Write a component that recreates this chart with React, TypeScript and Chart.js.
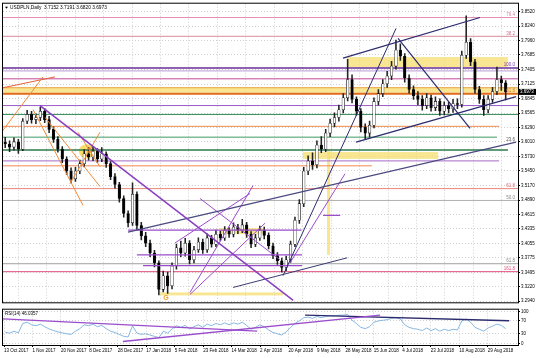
import React, { useEffect, useRef } from "react";
import { Chart, registerables } from "chart.js";
Chart.register(...registerables);

const FONT = "'Liberation Sans', Arial, sans-serif";

// ---------- price data (2-day candles) ----------
const firstOpen = 3.6;
const closes = [
  3.597, 3.591, 3.601, 3.587, 3.641, 3.654, 3.644, 3.648, 3.660, 3.644,
  3.625, 3.606, 3.587, 3.568, 3.545, 3.530, 3.545, 3.559, 3.578, 3.572,
  3.583, 3.568, 3.578, 3.559, 3.534, 3.519, 3.492, 3.463, 3.445, 3.500,
  3.440, 3.420, 3.406, 3.387, 3.368, 3.317, 3.343, 3.324, 3.362, 3.397,
  3.387, 3.406, 3.374, 3.393, 3.408, 3.393, 3.416, 3.404, 3.423, 3.416,
  3.431, 3.423, 3.437, 3.431, 3.441, 3.423, 3.404, 3.416, 3.431, 3.421,
  3.401, 3.382, 3.372, 3.359, 3.374, 3.404, 3.450, 3.482, 3.545, 3.564,
  3.557, 3.595, 3.587, 3.618, 3.637, 3.648, 3.663, 3.686, 3.721, 3.683,
  3.660, 3.629, 3.618, 3.633, 3.679, 3.694, 3.713, 3.728, 3.747, 3.778,
  3.766, 3.724, 3.702, 3.690, 3.683, 3.671, 3.686, 3.667, 3.679, 3.660,
  3.671, 3.665, 3.675, 3.673, 3.768, 3.793, 3.755, 3.702, 3.683, 3.663,
  3.683, 3.698, 3.721, 3.715, 3.6973,
];
const highs = [
  3.610, 3.603, 3.609, 3.606, 3.646, 3.662, 3.660, 3.655, 3.668, 3.665,
  3.650, 3.630, 3.611, 3.592, 3.572, 3.551, 3.552, 3.566, 3.586, 3.590,
  3.592, 3.588, 3.590, 3.582, 3.563, 3.540, 3.523, 3.497, 3.468, 3.522,
  3.505, 3.446, 3.427, 3.412, 3.392, 3.372, 3.352, 3.350, 3.368, 3.404,
  3.410, 3.415, 3.411, 3.400, 3.416, 3.414, 3.424, 3.421, 3.431, 3.429,
  3.438, 3.436, 3.445, 3.442, 3.452, 3.446, 3.428, 3.423, 3.439, 3.437,
  3.426, 3.406, 3.388, 3.377, 3.381, 3.410, 3.456, 3.490, 3.552, 3.574,
  3.580, 3.603, 3.611, 3.625, 3.645, 3.657, 3.672, 3.694, 3.760, 3.730,
  3.688, 3.665, 3.636, 3.641, 3.686, 3.702, 3.721, 3.737, 3.756, 3.797,
  3.790, 3.771, 3.730, 3.709, 3.698, 3.690, 3.694, 3.691, 3.688, 3.684,
  3.678, 3.677, 3.683, 3.684, 3.776, 3.844, 3.800, 3.760, 3.708, 3.690,
  3.690, 3.706, 3.745, 3.728, 3.7191,
];
const lows = [
  3.590, 3.582, 3.585, 3.579, 3.584, 3.636, 3.637, 3.636, 3.642, 3.638,
  3.619, 3.600, 3.581, 3.561, 3.538, 3.522, 3.525, 3.540, 3.553, 3.566,
  3.565, 3.561, 3.563, 3.552, 3.528, 3.512, 3.485, 3.456, 3.437, 3.440,
  3.432, 3.412, 3.399, 3.380, 3.360, 3.306, 3.312, 3.309, 3.318, 3.356,
  3.380, 3.381, 3.366, 3.368, 3.388, 3.386, 3.388, 3.398, 3.399, 3.410,
  3.411, 3.417, 3.418, 3.424, 3.426, 3.417, 3.397, 3.399, 3.411, 3.414,
  3.395, 3.376, 3.365, 3.350, 3.353, 3.369, 3.399, 3.444, 3.476, 3.538,
  3.548, 3.551, 3.580, 3.582, 3.611, 3.630, 3.641, 3.657, 3.680, 3.676,
  3.652, 3.620, 3.607, 3.610, 3.628, 3.672, 3.688, 3.706, 3.721, 3.741,
  3.758, 3.716, 3.695, 3.683, 3.672, 3.662, 3.665, 3.660, 3.661, 3.652,
  3.653, 3.657, 3.658, 3.665, 3.668, 3.762, 3.748, 3.695, 3.675, 3.652,
  3.657, 3.677, 3.692, 3.700, 3.682,
];
const rsiValues = [
  35, 32, 38, 33, 62, 66, 58, 55, 60, 52,
  45, 40, 36, 33, 30, 28, 38, 46, 58, 55,
  60, 52, 56, 46, 38, 34, 28, 22, 20, 55,
  32, 28, 30, 26, 22, 18, 38, 32, 45, 55,
  50, 56, 45, 52, 58, 50, 60, 55, 62, 58,
  64, 58, 64, 60, 66, 56, 44, 50, 58, 52,
  42, 34, 30, 26, 36, 50, 62, 70, 80, 82,
  78, 84, 80, 84, 86, 86, 88, 88, 90, 72,
  62, 50, 46, 52, 66, 70, 72, 74, 78, 80,
  76, 58, 50, 46, 44, 40, 48, 40, 46, 38,
  44, 40, 44, 42, 70, 76, 66, 50, 44, 38,
  48, 54, 60, 56, 46.0357,
];

// ---------- axes ----------
const dateLabels = [
  "13 Oct 2017", "1 Nov 2017", "20 Nov 2017", "8 Dec 2017", "28 Dec 2017", "17 Jan 2018",
  "5 Feb 2018", "23 Feb 2018", "14 Mar 2018", "2 Apr 2018", "20 Apr 2018", "9 May 2018",
  "28 May 2018", "15 Jun 2018", "4 Jul 2018", "23 Jul 2018", "10 Aug 2018", "29 Aug 2018",
];
const dateTickBars = [
  -0.27, 6.21, 12.69, 19.17, 25.65, 32.13, 38.61, 45.09, 51.57, 58.05, 64.53, 71.01,
  77.49, 83.97, 90.45, 96.93, 103.41, 109.89,
];
const priceTicks = [
  3.852, 3.824, 3.796, 3.7685, 3.7405, 3.7125, 3.6845, 3.6565, 3.629, 3.601, 3.573,
  3.545, 3.517, 3.489, 3.4615, 3.4335, 3.4055, 3.3775, 3.3495, 3.322, 3.294,
];
const rsiTicks = [0, 30, 70, 100];
const barMin = -0.5;
const barMax = 116.8;
const priceMin = 3.292;
const priceMax = 3.8672;

// ---------- horizontal levels ----------
const levelPrices = [3.8406, 3.8044, 3.7434, 3.7377, 3.7225, 3.7053, 3.6939, 3.671, 3.6539,
  3.631, 3.6101, 3.5853, 3.5644, 3.5549, 3.511, 3.4882, 3.3663, 3.351];
const levelStartBars = [-0.5, -0.5, -0.5, -0.5, -0.5, -0.5, -0.5, -0.5, -0.5,
  -0.5, -0.5, -0.5, -0.5, -0.5, -0.5, -0.5, -0.5, -0.5];
const levelEndBars = [116.8, 116.8, 116.8, 116.8, 116.8, 116.8, 116.8, 116.8, 116.8,
  112.5, 112, 114.5, 112.5, 83.5, 116.8, 116.8, 116.8, 116.8];
const levelStyles = [
  ["#e58fb5", 1], ["#d98a9c", 1], ["#6a2c9a", 1.5], ["#b99ad6", 1], ["#c2489e", 1],
  ["#e9a13b", 1], ["#e06a1a", 2], ["#9a5cc8", 1], ["#2f8a55", 1],
  ["#f0884a", 1], ["#3f9a60", 1], ["#2b7a4b", 1.5], ["#a56ac8", 1], ["#f08a4e", 1],
  ["#e9877a", 1], ["#b0b0b0", 1], ["#a0a0a0", 1], ["#e2507c", 1],
];

// short horizontal segments
const segPrices = [3.431, 3.3834, 3.3625, 3.4596];
const segStartBars = [28, 30, 31.4, 72.4];
const segEndBars = [67.5, 67.6, 67.6, 76.3];

// fib labels
const fibTexts = ["76.4", "38.2", "100.0", "61.8", "23.6", "61.8", "50.0", "61.8", "161.8"];
const fibPrices = [3.8406, 3.8044, 3.7434, 3.6939, 3.6006, 3.511, 3.4882, 3.3663, 3.351];
const fibColors = ["#e07fa8", "#d0708a", "#7a3aaa", "#e07a40", "#555", "#e06a70", "#888", "#888", "#e2507c"];

// ---------- trendlines ----------
const trendStartBars = [7.93, -1.18, -0.5, 6.33, 9.07, 14.76, 16.58, 76.95, 89.48, 79.91, 27.97, 63.28, 42.1, 51.9,
  38.68, 44.37, 42.1, 64.88];
const trendStartPrices = [3.671, 3.6158, 3.7053, 3.6634, 3.6482, 3.5206, 3.6196, 3.7625, 3.8006, 3.6006, 3.4272, 3.3434, 3.311, 3.3206,
  3.4063, 3.492, 3.3072, 3.3682];
const trendEndBars = [65.6, 8.61, 11.35, 17.72, 21.6, 21.6, 21.6, 108.15, 105.88, 116.36, 116.36, 89.02, 56.45, 77.9,
  55.76, 62.6, 59.18, 77.4];
const trendEndPrices = [3.2958, 3.7263, 3.7263, 3.4787, 3.5149, 3.6196, 3.553, 3.8406, 3.6272, 3.6882, 3.6006, 3.8196, 3.5168, 3.3777,
  3.5015, 3.3739, 3.4444, 3.5396];
const trendStyles = [
  ["#8a3fc0", 1.5], ["#f08a3a", 1], ["#e8603a", 1], ["#f08a3a", 1], ["#f08a3a", 1],
  ["#f08a3a", 1], ["#f08a3a", 1], ["#2b2b6e", 1.2], ["#2b2b6e", 1.2], ["#2b2b6e", 1.2],
  ["#4a4a80", 1.2], ["#2b2b6e", 1], ["#9a4ccc", 1], ["#3a3a70", 1],
  ["#9a4ccc", 1], ["#9a4ccc", 1], ["#9a4ccc", 1], ["#9a4ccc", 1],
];

// ---------- yellow zones ----------
const zoneStartBars = [77.9, -0.5, 67.8, 73.3, 48.9, 35.3];
const zoneEndBars = [114.5, 116.8, 98.6, 74.0, 58.7, 63.3];
const zoneTopPrices = [3.7644, 3.7053, 3.5815, 3.5872, 3.4349, 3.311];
const zoneBottomPrices = [3.7453, 3.6958, 3.5682, 3.3834, 3.4234, 3.3053];
const circleBar = 18.6;
const circlePrice = 3.583;

// ---------- RSI trendlines ----------
const rsiLineStartBars = [-0.5, 26.8, 68.3];
const rsiLineStartVals = [76.5, 5.9, 88];
const rsiLineEndBars = [57.4, 85.4, 114.8];
const rsiLineEndVals = [38.2, 88, 70.6];
const rsiLineColors = ["#9a4ccc", "#9a4ccc", "#2b2b6e"];

const titleText = "USDPLN,Daily  3.7152 3.7191 3.6820 3.6973";
const rsiTitle = "RSI(14) 46.0357";
const lastPrice = closes[closes.length - 1];

const gridColor = "#cfcfcf";

const mainPlugin = {
  id: "mainOverlay",
  beforeDatasetsDraw(chart: any) {
    const { ctx, chartArea: a, scales } = chart;
    const x = scales.x, y = scales.y;
    ctx.save();
    ctx.beginPath();
    ctx.rect(a.left, a.top, a.right - a.left, a.bottom - a.top);
    ctx.clip();
    ctx.fillStyle = "rgba(246, 222, 110, 0.75)";
    for (let i = 0; i < zoneStartBars.length; i++) {
      const x1 = x.getPixelForValue(zoneStartBars[i]);
      const x2 = x.getPixelForValue(zoneEndBars[i]);
      const y1 = y.getPixelForValue(zoneTopPrices[i]);
      const y2 = y.getPixelForValue(zoneBottomPrices[i]);
      ctx.fillRect(x1, y1, x2 - x1, y2 - y1);
    }
    const cx = x.getPixelForValue(circleBar);
    const cy = y.getPixelForValue(circlePrice);
    ctx.fillStyle = "rgba(248, 214, 80, 0.85)";
    ctx.beginPath();
    ctx.ellipse(cx, cy, 8, 7, 0, 0, Math.PI * 2);
    ctx.fill();
    ctx.restore();
  },
  afterDatasetsDraw(chart: any) {
    const { ctx, chartArea: a, scales } = chart;
    const x = scales.x, y = scales.y;
    ctx.save();
    ctx.font = `4.5px ${FONT}`;
    ctx.textAlign = "right";
    ctx.textBaseline = "bottom";
    for (let i = 0; i < fibTexts.length; i++) {
      ctx.fillStyle = fibColors[i];
      ctx.fillText(fibTexts[i], x.getPixelForValue(116.1), y.getPixelForValue(fibPrices[i]) - 0.5);
    }
    ctx.font = `bold 7px ${FONT}`;
    ctx.fillStyle = "#f0a030";
    ctx.textAlign = "center";
    ctx.textBaseline = "middle";
    ctx.fillText("G", x.getPixelForValue(36.6), y.getPixelForValue(3.2996));
    ctx.font = `4.8px ${FONT}`;
    ctx.fillStyle = "#000";
    ctx.textAlign = "left";
    ctx.textBaseline = "middle";
    ctx.beginPath();
    ctx.moveTo(a.left + 2, a.top + 3);
    ctx.lineTo(a.left + 5, a.top + 3);
    ctx.lineTo(a.left + 3.5, a.top + 5);
    ctx.closePath();
    ctx.fill();
    ctx.fillText(titleText, a.left + 7, a.top + 4);
    ctx.restore();
  },
  afterDraw(chart: any) {
    const { ctx, chartArea: a, scales } = chart;
    const y = scales.y;
    ctx.save();
    ctx.strokeStyle = "#000";
    ctx.lineWidth = 1;
    ctx.strokeRect(a.left - 0.5, a.top - 0.5, a.right - a.left + 1, a.bottom - a.top + 1);
    const py = y.getPixelForValue(lastPrice);
    ctx.fillStyle = "#000";
    ctx.fillRect(a.right + 1, py - 3, 17, 6);
    ctx.fillStyle = "#fff";
    ctx.font = `4.5px ${FONT}`;
    ctx.textAlign = "left";
    ctx.textBaseline = "middle";
    ctx.fillText(lastPrice.toFixed(4), a.right + 2, py);
    ctx.restore();
  },
};

const rsiPlugin = {
  id: "rsiOverlay",
  afterDraw(chart: any) {
    const { ctx, chartArea: a } = chart;
    ctx.save();
    ctx.strokeStyle = "#000";
    ctx.lineWidth = 1;
    ctx.strokeRect(a.left - 0.5, a.top - 0.5, a.right - a.left + 1, a.bottom - a.top + 1);
    ctx.font = `4.5px ${FONT}`;
    ctx.fillStyle = "#000";
    ctx.textAlign = "left";
    ctx.textBaseline = "middle";
    ctx.fillText(rsiTitle, a.left + 2, a.top + 4);
    ctx.restore();
  },
};

export default function App() {
  const mainRef = useRef<HTMLCanvasElement>(null);
  const rsiRef = useRef<HTMLCanvasElement>(null);

  useEffect(() => {
    const opens = closes.map((c, i) => (i === 0 ? firstOpen : closes[i - 1]));
    const wickData = closes.map((c, i) => ({ x: i, y: [lows[i], highs[i]] }));
    const bodyData = closes.map((c, i) => ({ x: i, y: [opens[i], c] }));
    const bodyColors = closes.map((c, i) => (c >= opens[i] ? "#ffffff" : "#000000"));

    const levelSets = levelPrices.map((p, i) => ({
      type: "line",
      data: [{ x: levelStartBars[i], y: p }, { x: levelEndBars[i], y: p }],
      borderColor: levelStyles[i][0],
      borderWidth: levelStyles[i][1],
      pointRadius: 0,
      fill: false,
      order: 10,
    }));
    const segSets = segPrices.map((p, i) => ({
      type: "line",
      data: [{ x: segStartBars[i], y: p }, { x: segEndBars[i], y: p }],
      borderColor: "#9a4ccc",
      borderWidth: 1.2,
      pointRadius: 0,
      fill: false,
      order: 1,
    }));
    const trendSets = trendStartBars.map((b, i) => ({
      type: "line",
      data: [{ x: b, y: trendStartPrices[i] }, { x: trendEndBars[i], y: trendEndPrices[i] }],
      borderColor: trendStyles[i][0],
      borderWidth: trendStyles[i][1],
      pointRadius: 0,
      fill: false,
      order: 0,
    }));

    const main = new Chart(mainRef.current as HTMLCanvasElement, {
      type: "bar",
      data: {
        datasets: [
          {
            type: "bar",
            data: bodyData as any,
            backgroundColor: bodyColors,
            borderColor: "#111",
            borderWidth: 0.6,
            borderSkipped: false,
            barThickness: 2.6,
            grouped: false,
            order: 4,
          },
          {
            type: "bar",
            data: wickData as any,
            backgroundColor: "#222",
            barThickness: 0.9,
            grouped: false,
            order: 5,
          },
          ...(levelSets as any),
          ...(segSets as any),
          ...(trendSets as any),
        ],
      },
      options: {
        responsive: false,
        devicePixelRatio: 1,
        animation: false,
        events: [],
        layout: { padding: { left: 3, top: 3, right: 0, bottom: 1 } },
        plugins: { legend: { display: false }, tooltip: { enabled: false } },
        scales: {
          x: {
            type: "linear",
            min: barMin,
            max: barMax,
            offset: false,
            afterBuildTicks: (s: any) => {
              s.ticks = dateTickBars.slice(1).map((v) => ({ value: v }));
            },
            afterFit: (s: any) => {
              s.height = 0;
            },
            ticks: { display: false },
            grid: { color: gridColor, drawTicks: false, lineWidth: 1 },
            border: { display: false, dash: [1, 2] },
          },
          y: {
            type: "linear",
            position: "right",
            min: priceMin,
            max: priceMax,
            afterBuildTicks: (s: any) => {
              s.ticks = priceTicks.map((v) => ({ value: v }));
            },
            afterFit: (s: any) => {
              s.width = 18;
            },
            ticks: {
              font: { size: 4.5, family: FONT },
              color: "#000",
              padding: 1,
              callback: (v: any) => Number(v).toFixed(4),
            },
            grid: { color: gridColor, tickColor: "#000", tickLength: 2, lineWidth: 1 },
            border: { display: false, dash: [1, 2] },
          },
        },
      },
      plugins: [mainPlugin],
    } as any);

    const rsiLineSets = rsiLineStartBars.map((b, i) => ({
      type: "line",
      data: [{ x: b, y: rsiLineStartVals[i] }, { x: rsiLineEndBars[i], y: rsiLineEndVals[i] }],
      borderColor: rsiLineColors[i],
      borderWidth: 1.3,
      pointRadius: 0,
      fill: false,
      order: 0,
    }));

    const rsi = new Chart(rsiRef.current as HTMLCanvasElement, {
      type: "line",
      data: {
        datasets: [
          {
            data: rsiValues.map((v, i) => ({ x: i, y: v })),
            borderColor: "#6aa6d8",
            borderWidth: 0.8,
            pointRadius: 0,
            tension: 0,
            fill: false,
            order: 2,
          },
          ...(rsiLineSets as any),
        ],
      },
      options: {
        responsive: false,
        devicePixelRatio: 1,
        animation: false,
        events: [],
        layout: { padding: { left: 3, top: 1, right: 0, bottom: 0 } },
        plugins: { legend: { display: false }, tooltip: { enabled: false } },
        scales: {
          x: {
            type: "linear",
            min: barMin,
            max: barMax,
            offset: false,
            afterBuildTicks: (s: any) => {
              s.ticks = dateTickBars.map((v) => ({ value: v }));
            },
            afterFit: (s: any) => {
              s.height = 13;
            },
            ticks: {
              font: { size: 4.5, family: FONT },
              color: "#000",
              align: "start",
              maxRotation: 0,
              autoSkip: false,
              padding: 1,
              callback: (_v: any, idx: number) => dateLabels[idx],
            },
            grid: { color: gridColor, tickColor: "#000", tickLength: 2 },
            border: { display: false, dash: [1, 2] },
          },
          y: {
            type: "linear",
            position: "right",
            min: -5,
            max: 105,
            afterBuildTicks: (s: any) => {
              s.ticks = rsiTicks.map((v) => ({ value: v }));
            },
            afterFit: (s: any) => {
              s.width = 18;
            },
            ticks: { font: { size: 4.5, family: FONT }, color: "#000", padding: 1 },
            grid: { color: gridColor, tickColor: "#000", tickLength: 2 },
            border: { display: false, dash: [1, 2] },
          },
        },
      },
      plugins: [rsiPlugin],
    } as any);

    return () => {
      main.destroy();
      rsi.destroy();
    };
  }, []);

  return (
    <div style={{ position: "fixed", left: 0, top: 0, width: 536, height: 358, background: "#fff" }}>
      <canvas ref={mainRef} width={536} height={306} style={{ position: "absolute", left: 0, top: 0 }} />
      <canvas ref={rsiRef} width={536} height={52} style={{ position: "absolute", left: 0, top: 306 }} />
    </div>
  );
}
